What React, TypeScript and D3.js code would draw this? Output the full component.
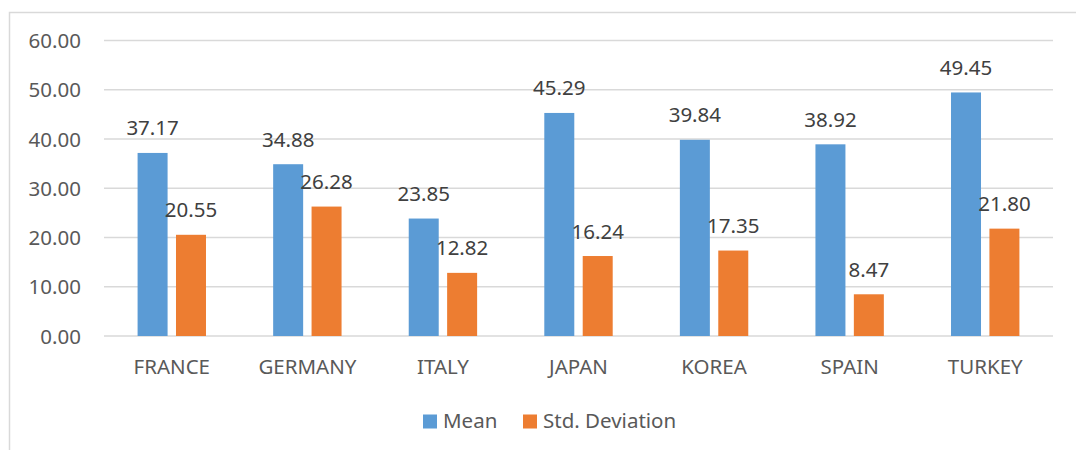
import React from "react";
import * as d3 from "d3";

const categories = ["FRANCE", "GERMANY", "ITALY", "JAPAN", "KOREA", "SPAIN", "TURKEY"];
const seriesNames = ["Mean", "Std. Deviation"];
const meanValues = [37.17, 34.88, 23.85, 45.29, 39.84, 38.92, 49.45];
const stdValues = [20.55, 26.28, 12.82, 16.24, 17.35, 8.47, 21.8];
const yTicks = [0, 10, 20, 30, 40, 50, 60];

const W = 1076;
const H = 450;
const colors = ["#5B9BD5", "#ED7D31"];
const FONT = "'Noto Sans', 'Open Sans', sans-serif";

export default function App() {
  const x0 = d3.scaleBand<string>().domain(categories).range([104, 1053]).paddingInner(0.4955).paddingOuter(0.24775);
  const x1 = d3.scaleBand<string>().domain(seriesNames).range([0, x0.bandwidth()]).paddingInner(0.219).paddingOuter(0);
  const y = d3.scaleLinear().domain([0, 60]).range([336, 40.5]);
  const series = [meanValues, stdValues];

  return (
    <svg width={W} height={H} style={{ position: "absolute", left: 0, top: 0 }} fontFamily={FONT}>
      <rect x={0} y={0} width={W} height={H} fill="#fff" />
      <rect x={9.5} y={12.5} width={W + 20} height={H + 20} fill="none" stroke="#d9d9d9" strokeWidth={1.5} />
      {yTicks.map((t) => (
        <g key={t}>
          <line x1={104} x2={1053} y1={y(t)} y2={y(t)} stroke="#d9d9d9" strokeWidth={1.5} />
          <text x={81} y={y(t) + 7.5} textAnchor="end" fontSize={20.5} fill="#595959">
            {d3.format(".2f")(t)}
          </text>
        </g>
      ))}
      {categories.map((c, i) => (
        <g key={c} transform={`translate(${x0(c)},0)`}>
          {seriesNames.map((s, j) => {
            const v = series[j][i];
            const bx = x1(s)!;
            return (
              <g key={s}>
                <rect x={bx} y={y(v)} width={x1.bandwidth()} height={y(0) - y(v)} fill={colors[j]} />
                <text x={bx + x1.bandwidth() / 2} y={y(v) - 17.5} textAnchor="middle" fontSize={20.5} fill="#404040">
                  {d3.format(".2f")(v)}
                </text>
              </g>
            );
          })}
          <text x={x0.bandwidth() / 2} y={374} textAnchor="middle" fontSize={20.5} fill="#595959">
            {c}
          </text>
        </g>
      ))}
      {seriesNames.map((s, j) => {
        const lx = j === 0 ? 423 : 523;
        return (
          <g key={s}>
            <rect x={lx} y={414.5} width={14} height={14} fill={colors[j]} />
            <text x={lx + 20} y={428} fontSize={20.5} fill="#595959">
              {s}
            </text>
          </g>
        );
      })}
    </svg>
  );
}
